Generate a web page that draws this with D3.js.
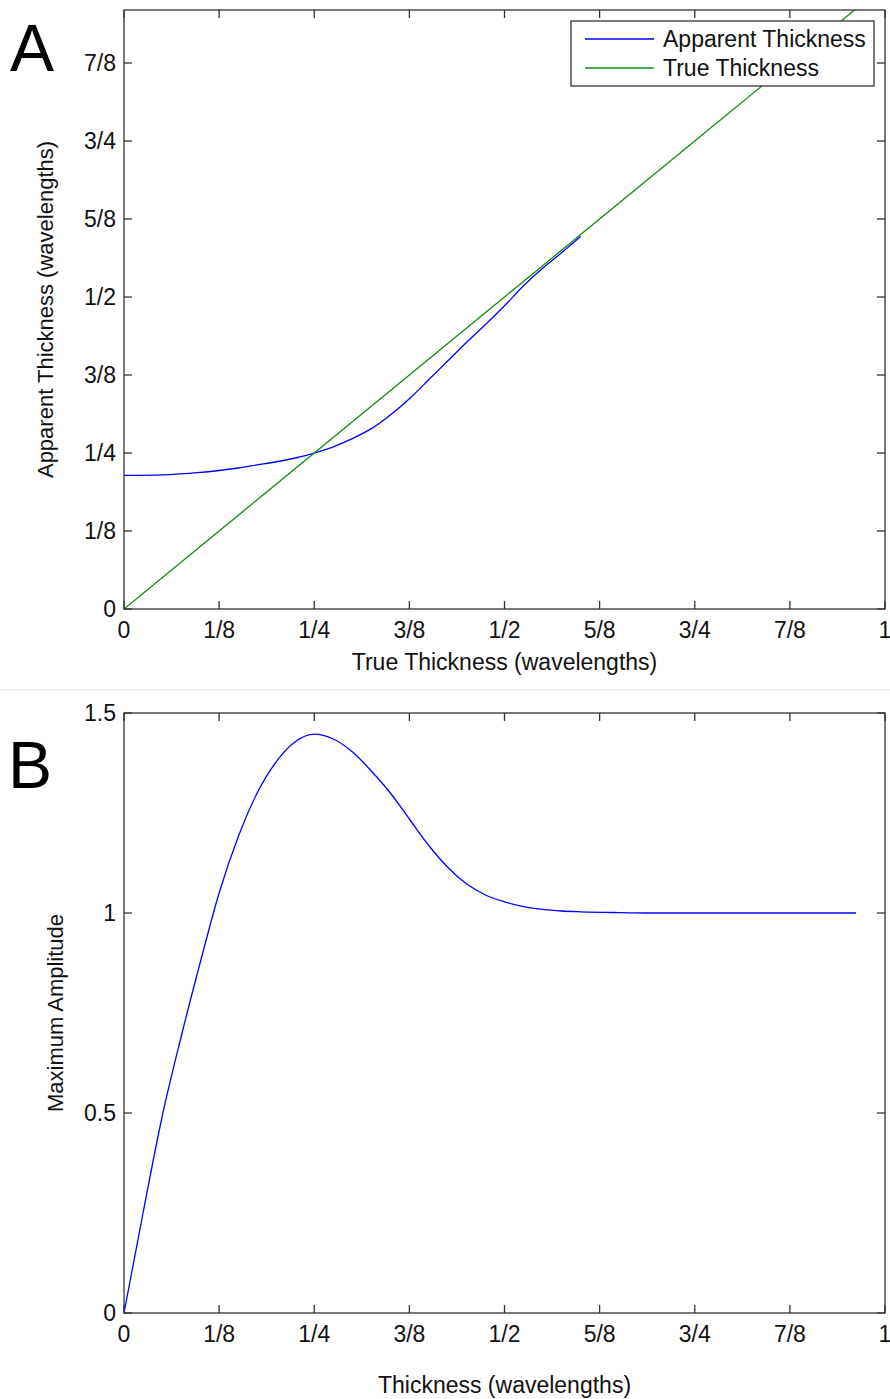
<!DOCTYPE html>
<html>
<head>
<meta charset="utf-8">
<script src="https://cdn.jsdelivr.net/npm/d3@7"></script>
<style>
  body { margin: 0; background: #fff; }
  svg text { font-family: "Liberation Sans", Arial, Helvetica, sans-serif; fill: #111; }
</style>
</head>
<body>
<div id="chart"></div>
<script>
// tick positions (in wavelengths) and their labels
const fracTicks = [0, 0.125, 0.25, 0.375, 0.5, 0.625, 0.75, 0.875, 1];
const fracLabels = ['0', '1/8', '1/4', '3/8', '1/2', '5/8', '3/4', '7/8', '1'];
const ampTicks = [0, 0.5, 1, 1.5];
const ampLabels = ['0', '0.5', '1', '1.5'];

// panel A: apparent vs true thickness
const trueX = [0, 0.25, 0.5, 0.75, 1];
const trueY = [0, 0.25, 0.5, 0.75, 1];
const apparentX = [0, 0.05, 0.1, 0.125, 0.15, 0.175, 0.2, 0.225, 0.25, 0.275, 0.3, 0.325, 0.35, 0.375,
  0.4, 0.425, 0.45, 0.475, 0.5, 0.525, 0.55, 0.575, 0.6];
const apparentY = [0.214, 0.215, 0.219, 0.222, 0.226, 0.231, 0.236, 0.242, 0.25, 0.26, 0.273, 0.289, 0.311, 0.337,
  0.367, 0.397, 0.427, 0.456, 0.486, 0.518, 0.546, 0.571, 0.597];

// panel B: maximum amplitude vs thickness
const ampX = [0, 0.025, 0.05, 0.075, 0.1, 0.125, 0.15, 0.175, 0.2, 0.225, 0.25, 0.275, 0.3, 0.325, 0.35,
  0.375, 0.4, 0.425, 0.45, 0.475, 0.5, 0.525, 0.55, 0.575, 0.6, 0.65, 0.7, 0.8, 0.9, 0.962];
const ampY = [0, 0.25, 0.49, 0.69, 0.875, 1.05, 1.19, 1.3, 1.378, 1.428, 1.447, 1.435, 1.403, 1.355, 1.3,
  1.235, 1.17, 1.115, 1.073, 1.045, 1.028, 1.016, 1.009, 1.005, 1.003, 1.001, 1.0, 1.0, 1.0, 1.0];

const width = 890, height = 1399;
const fontSize = 23;

const svg = d3.select('#chart').append('svg')
  .attr('width', width)
  .attr('height', height);

// faint seam between the two panels
svg.append('line')
  .attr('x1', 0).attr('x2', width)
  .attr('y1', 690).attr('y2', 690)
  .style('stroke', '#f2f2f2')
  .style('stroke-width', 2);

function panel(opts) {
  let x = d3.scaleLinear().domain([0, 1]).range([opts.left, opts.right]);
  let y = d3.scaleLinear().domain(opts.yDomain).range([opts.bottom, opts.top]);
  let g = svg.append('g');

  let clipId = 'clip-' + opts.id;
  svg.append('clipPath').attr('id', clipId)
    .append('rect')
      .attr('x', opts.left).attr('y', opts.top)
      .attr('width', opts.right - opts.left)
      .attr('height', opts.bottom - opts.top);

  // lines
  let lineGen = d3.line()
    .curve(d3.curveMonotoneX)
    .x(function(d) { return x(d[0]); })
    .y(function(d) { return y(d[1]); });
  let plot = g.append('g').attr('clip-path', 'url(#' + clipId + ')');
  opts.series.forEach(function(s) {
    plot.append('path')
      .datum(d3.zip(s.x, s.y))
      .attr('d', lineGen)
      .style('fill', 'none')
      .style('stroke', s.color)
      .style('stroke-width', 1.3);
  });

  // inward ticks on all four sides (MATLAB box style)
  let tickLen = 8;
  let axes = g.append('g').style('stroke', '#333').style('stroke-width', 1.3);
  fracTicks.forEach(function(t) {
    axes.append('line').attr('x1', x(t)).attr('x2', x(t))
      .attr('y1', opts.bottom).attr('y2', opts.bottom - tickLen);
    axes.append('line').attr('x1', x(t)).attr('x2', x(t))
      .attr('y1', opts.top).attr('y2', opts.top + tickLen);
  });
  opts.yTicks.forEach(function(t) {
    axes.append('line').attr('y1', y(t)).attr('y2', y(t))
      .attr('x1', opts.left).attr('x2', opts.left + tickLen);
    axes.append('line').attr('y1', y(t)).attr('y2', y(t))
      .attr('x1', opts.right).attr('x2', opts.right - tickLen);
  });
  axes.append('rect')
    .attr('x', opts.left).attr('y', opts.top)
    .attr('width', opts.right - opts.left)
    .attr('height', opts.bottom - opts.top)
    .style('fill', 'none');

  // tick labels
  g.append('g').selectAll('text')
    .data(fracTicks)
    .enter().append('text')
      .attr('x', function(d) { return x(d); })
      .attr('y', opts.bottom + 29)
      .attr('text-anchor', 'middle')
      .style('font-size', fontSize + 'px')
      .text(function(d, i) { return fracLabels[i]; });
  g.append('g').selectAll('text')
    .data(opts.yTicks)
    .enter().append('text')
      .attr('x', opts.left - 8)
      .attr('y', function(d) { return y(d) + 8; })
      .attr('text-anchor', 'end')
      .style('font-size', fontSize + 'px')
      .text(function(d, i) { return opts.yLabels[i]; });

  // axis titles
  g.append('text')
    .attr('x', (opts.left + opts.right) / 2)
    .attr('y', opts.xTitleY)
    .attr('text-anchor', 'middle')
    .style('font-size', fontSize + 'px')
    .text(opts.xTitle);
  g.append('text')
    .attr('transform', 'translate(' + opts.yTitleX + ',' + ((opts.top + opts.bottom) / 2) + ') rotate(-90)')
    .attr('text-anchor', 'middle')
    .style('font-size', '22px')
    .text(opts.yTitle);

  // panel letter
  g.append('text')
    .attr('x', opts.letterX).attr('y', opts.letterY)
    .style('font-size', '66px')
    .style('fill', '#000')
    .text(opts.letter);

  return { x: x, y: y, g: g };
}

let seriesA = [
  { name: 'Apparent Thickness', x: apparentX, y: apparentY, color: '#0000ff' },
  { name: 'True Thickness', x: trueX, y: trueY, color: '#138a13' }
];

let pa = panel({
  id: 'a', left: 124, right: 885, top: 10, bottom: 609,
  yDomain: [0, 0.96], yTicks: fracTicks.slice(0, 8), yLabels: fracLabels.slice(0, 8),
  series: seriesA,
  xTitle: 'True Thickness (wavelengths)', xTitleY: 670,
  yTitle: 'Apparent Thickness (wavelengths)', yTitleX: 53,
  letter: 'A', letterX: 10, letterY: 71
});

// legend
let legend = pa.g.append('g');
legend.append('rect')
  .attr('x', 571).attr('y', 21)
  .attr('width', 303).attr('height', 65)
  .style('fill', '#fff')
  .style('stroke', '#333')
  .style('stroke-width', 1.3);
seriesA.forEach(function(s, i) {
  let cy = 39 + i * 29;
  legend.append('line')
    .attr('x1', 585).attr('x2', 654)
    .attr('y1', cy).attr('y2', cy)
    .style('stroke', s.color)
    .style('stroke-width', 1.3);
  legend.append('text')
    .attr('x', 663).attr('y', cy + 8)
    .style('font-size', fontSize + 'px')
    .text(s.name);
});

panel({
  id: 'b', left: 124, right: 885, top: 713, bottom: 1313,
  yDomain: [0, 1.5], yTicks: ampTicks, yLabels: ampLabels,
  series: [{ name: 'Maximum Amplitude', x: ampX, y: ampY, color: '#0000ff' }],
  xTitle: 'Thickness (wavelengths)', xTitleY: 1393,
  yTitle: 'Maximum Amplitude', yTitleX: 63,
  letter: 'B', letterX: 8, letterY: 788
});
</script>
</body>
</html>
